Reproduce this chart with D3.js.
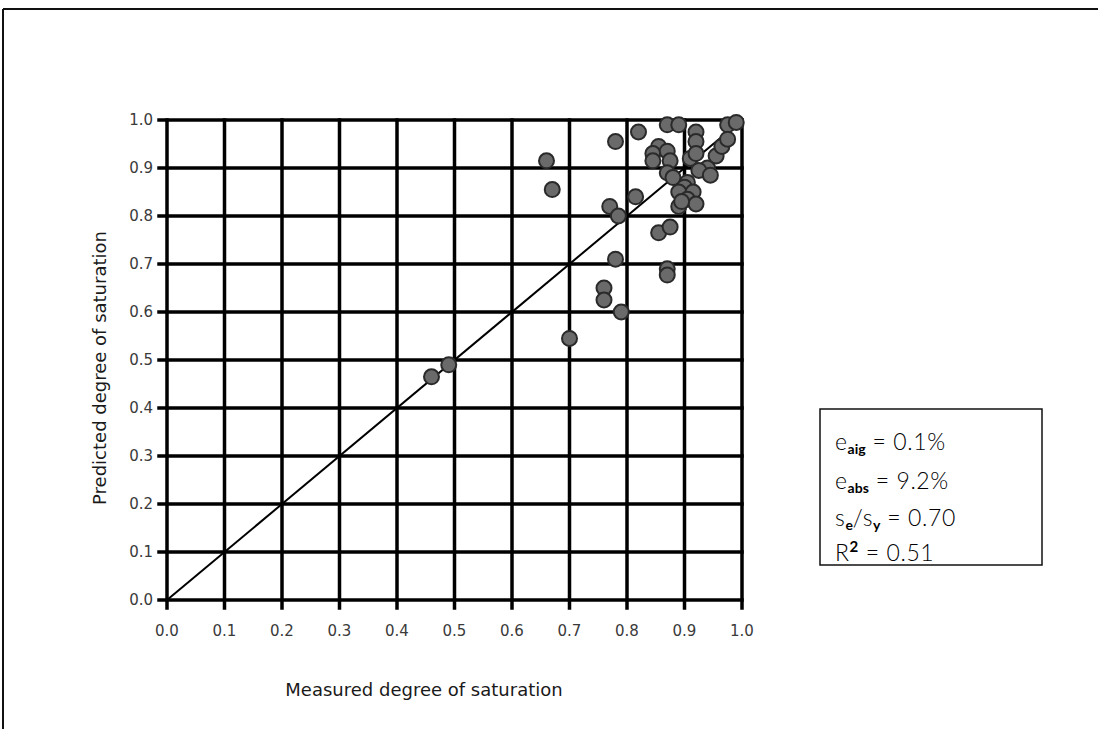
<!DOCTYPE html>
<html>
<head>
<meta charset="utf-8">
<script src="https://cdn.jsdelivr.net/npm/d3@7"></script>
<style>
  html, body { margin: 0; padding: 0; background: #fff; }
  svg { display: block; }
</style>
</head>
<body>
<svg id="chart" width="1098" height="729"></svg>
<script>
// ---- data ----
const ticks = [0.0, 0.1, 0.2, 0.3, 0.4, 0.5, 0.6, 0.7, 0.8, 0.9, 1.0];
const measured = [0.46, 0.49, 0.70, 0.66, 0.67, 0.78, 0.82,
  0.77, 0.785, 0.78, 0.76, 0.76, 0.79,
  0.87, 0.87, 0.855, 0.875,
  0.815,
  0.87, 0.89, 0.92, 0.92, 0.975, 0.99,
  0.855, 0.845, 0.845, 0.87, 0.875, 0.87,
  0.91, 0.92, 0.94, 0.955, 0.965, 0.975,
  0.88, 0.905, 0.925, 0.945,
  0.90, 0.89, 0.915, 0.89, 0.905, 0.92, 0.895];
const predicted = [0.465, 0.49, 0.545, 0.915, 0.855, 0.955, 0.975,
  0.82, 0.80, 0.71, 0.65, 0.625, 0.60,
  0.69, 0.677, 0.765, 0.777,
  0.84,
  0.99, 0.99, 0.975, 0.955, 0.99, 0.995,
  0.945, 0.93, 0.915, 0.935, 0.915, 0.89,
  0.92, 0.93, 0.90, 0.925, 0.945, 0.96,
  0.88, 0.87, 0.895, 0.885,
  0.86, 0.85, 0.85, 0.82, 0.835, 0.825, 0.83];
const xTitle = "Measured degree of saturation";
const yTitle = "Predicted degree of saturation";
const statLines = [
  {main: "e", sub: "aig", sup: null, rest: " = 0.1%"},
  {main: "e", sub: "abs", sup: null, rest: " = 9.2%"},
  {main: "s", sub: "e", sup: null, rest: "/", main2: "s", sub2: "y", rest2: " = 0.70"},
  {main: "R", sub: null, sup: "2", rest: " = 0.51"}
];

// ---- layout ----
const svg = d3.select("#chart");
const x = d3.scaleLinear().domain([0, 1]).range([167, 742]);
const y = d3.scaleLinear().domain([0, 1]).range([600, 120]);

// outer frame (top + left)
svg.append("line").attr("x1", 3).attr("y1", 9).attr("x2", 1098).attr("y2", 9)
  .attr("stroke", "#111").attr("stroke-width", 2);
svg.append("line").attr("x1", 3).attr("y1", 9).attr("x2", 3).attr("y2", 729)
  .attr("stroke", "#111").attr("stroke-width", 2);

const g = svg.append("g");

// grid lines (horizontal) extend left as ticks
g.selectAll("line.h").data(ticks).enter().append("line")
  .attr("class", "h")
  .attr("x1", x(0) - 8).attr("x2", x(1))
  .attr("y1", d => y(d)).attr("y2", d => y(d))
  .attr("stroke", "#000").attr("stroke-width", 3.5).attr("stroke-linecap", "square");
// grid lines (vertical) extend down as ticks
g.selectAll("line.v").data(ticks).enter().append("line")
  .attr("class", "v")
  .attr("x1", d => x(d)).attr("x2", d => x(d))
  .attr("y1", y(1)).attr("y2", y(0) + 8)
  .attr("stroke", "#000").attr("stroke-width", 3.5).attr("stroke-linecap", "square");

// diagonal 1:1 line
g.append("line")
  .attr("x1", x(0)).attr("y1", y(0)).attr("x2", x(1)).attr("y2", y(1))
  .attr("stroke", "#000").attr("stroke-width", 2);

// tick labels
const fmt = d3.format(".1f");
g.selectAll("text.xt").data(ticks).enter().append("text")
  .attr("class", "xt")
  .attr("x", d => x(d)).attr("y", y(0) + 36)
  .attr("text-anchor", "middle")
  .attr("font-family", "DejaVu Sans").attr("font-size", 15)
  .attr("fill", "#3a3a3a")
  .text(d => fmt(d));
g.selectAll("text.yt").data(ticks).enter().append("text")
  .attr("class", "yt")
  .attr("x", x(0) - 14).attr("y", d => y(d) + 5)
  .attr("text-anchor", "end")
  .attr("font-family", "DejaVu Sans").attr("font-size", 15)
  .attr("fill", "#3a3a3a")
  .text(d => fmt(d));

// axis titles
svg.append("text")
  .attr("x", 424).attr("y", 696)
  .attr("text-anchor", "middle")
  .attr("font-family", "DejaVu Sans").attr("font-size", 18)
  .attr("fill", "#1a1a1a")
  .text(xTitle);
svg.append("text")
  .attr("transform", "translate(106,368) rotate(-90)")
  .attr("text-anchor", "middle")
  .attr("font-family", "DejaVu Sans").attr("font-size", 18)
  .attr("fill", "#1a1a1a")
  .text(yTitle);

// points
const pts = measured.map((m, i) => ({m, p: predicted[i]}));
g.selectAll("circle.pt").data(pts).enter().append("circle")
  .attr("class", "pt")
  .attr("cx", d => x(d.m)).attr("cy", d => y(d.p))
  .attr("r", 7.5)
  .attr("fill", "#6a6a6a").attr("stroke", "#2a2a2a").attr("stroke-width", 2);

// stats box
svg.append("rect")
  .attr("x", 820).attr("y", 409).attr("width", 222).attr("height", 156)
  .attr("fill", "#fff").attr("stroke", "#111").attr("stroke-width", 1.5);

const baselines = [450, 489, 526, 561];
statLines.forEach((s, i) => {
  const t = svg.append("text")
    .attr("x", 835).attr("y", baselines[i])
    .attr("font-family", "Lato, DejaVu Sans").attr("font-weight", 300)
    .attr("font-size", 23).attr("letter-spacing", 0.6).attr("fill", "#000");
  t.append("tspan").text(s.main);
  if (s.sub) t.append("tspan").attr("font-size", 14).attr("font-weight", 700)
    .attr("letter-spacing", 0).attr("dy", 4).text(s.sub);
  if (s.sup) t.append("tspan").attr("font-size", 15).attr("font-weight", 700)
    .attr("dy", -9).text(s.sup);
  const back = s.sub ? -4 : (s.sup ? 9 : 0);
  t.append("tspan").attr("dy", back).text(s.rest);
  if (s.main2) {
    t.append("tspan").text(s.main2);
    t.append("tspan").attr("font-size", 14).attr("font-weight", 700).attr("letter-spacing", 0)
      .attr("dy", 4).text(s.sub2);
    t.append("tspan").attr("dy", -4).text(s.rest2);
  }
});
</script>
</body>
</html>
